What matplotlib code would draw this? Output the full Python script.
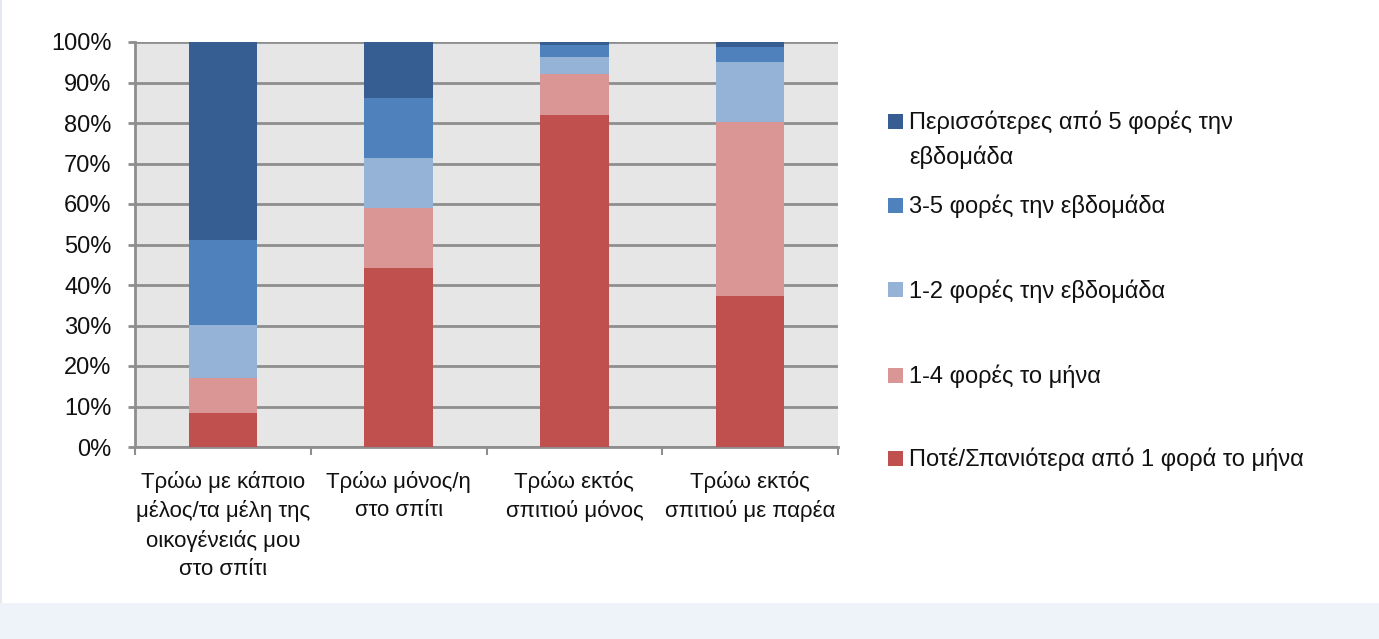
import matplotlib
matplotlib.use("Agg")
import matplotlib.pyplot as plt
from matplotlib.patches import Rectangle
from matplotlib.ticker import FixedLocator, FuncFormatter

plt.rcParams['font.family'] = ['Liberation Sans', 'DejaVu Sans']

categories = [
    "Τρώω με κάποιο\nμέλος/τα μέλη της\nοικογένειάς μου\nστο σπίτι",
    "Τρώω μόνος/η\nστο σπίτι",
    "Τρώω εκτός\nσπιτιού μόνος",
    "Τρώω εκτός\nσπιτιού με παρέα",
]
# stacked from bottom to top
series_labels = [
    "Ποτέ/Σπανιότερα από 1 φορά το μήνα",
    "1-4 φορές το μήνα",
    "1-2 φορές την εβδομάδα",
    "3-5 φορές την εβδομάδα",
    "Περισσότερες από 5 φορές την\nεβδομάδα",
]
never = [8.3, 44.1, 82.0, 37.4]
month_1_4 = [8.7, 14.8, 10.0, 42.9]
week_1_2 = [13.1, 12.4, 4.2, 14.7]
week_3_5 = [21.0, 14.8, 3.0, 3.8]
week_5plus = [48.9, 13.9, 0.8, 1.2]
series_values = [never, month_1_4, week_1_2, week_3_5, week_5plus]
series_colors = ["#C0504D", "#D99694", "#95B3D7", "#4F81BD", "#375E92"]
yticks = [0, 10, 20, 30, 40, 50, 60, 70, 80, 90, 100]

W, H = 1379, 639
fig = plt.figure(figsize=(W / 100, H / 100), dpi=100)
fig.patch.set_facecolor("white")

# bottom band and faint left border
fig.patches.append(Rectangle((0, 0), 1, 36 / H, transform=fig.transFigure,
                             facecolor="#EEF2F9", edgecolor="none", zorder=0))
fig.patches.append(Rectangle((0, 36 / H), 2 / W, 1 - 36 / H, transform=fig.transFigure,
                             facecolor="#E4E9F1", edgecolor="none", zorder=0))

ax = fig.add_axes([135 / W, 1 - 447 / H, (838 - 135) / W, (447 - 42) / H])
ax.set_facecolor("#E6E6E6")

x = list(range(len(categories)))
bottom = [0.0] * len(categories)
for vals, col, lab in zip(series_values, series_colors, series_labels):
    ax.bar(x, vals, width=0.39, bottom=bottom, color=col, edgecolor="none",
           label=lab, zorder=3)
    bottom = [b + v for b, v in zip(bottom, vals)]

ax.set_xlim(-0.5, len(categories) - 0.5)
ax.set_ylim(0, 100)
ax.set_axisbelow(True)
ax.yaxis.set_major_locator(FixedLocator(yticks))
ax.yaxis.set_major_formatter(FuncFormatter(lambda v, p: f"{int(v)}%"))
ax.grid(axis="y", color="#8E8E8E", linewidth=2.0, zorder=0)
ax.grid(axis="x", visible=False)

ax.set_xticks(x)
ax.set_xticklabels(categories, fontsize=16, color="#111111", linespacing=1.45)
ax.set_xticks([i - 0.5 for i in range(len(categories) + 1)], minor=True)
ax.tick_params(axis="x", which="major", length=0, pad=17)
ax.tick_params(axis="x", which="minor", length=6, width=1.5, color="#8E8E8E")
ax.tick_params(axis="y", length=5, width=2, color="#8E8E8E", pad=12,
               labelsize=17, labelcolor="#111111")

for s in ["top", "right"]:
    ax.spines[s].set_visible(False)
for s in ["left", "bottom"]:
    ax.spines[s].set_color("#8E8E8E")
    ax.spines[s].set_linewidth(2)

# legend (top entry first), drawn in figure pixel coordinates
leg_y = [121, 205, 290, 375, 458]
order = list(range(len(series_labels)))[::-1]
fs = 17
for yc, idx in zip(leg_y, order):
    fig.patches.append(Rectangle((888 / W, 1 - (yc + 7.5) / H), 15 / W, 15 / H,
                                 transform=fig.transFigure,
                                 facecolor=series_colors[idx], edgecolor="none"))
    for j, line in enumerate(series_labels[idx].split("\n")):
        base = yc + 8.3 + j * 35
        fig.text(909 / W, 1 - base / H, line, fontsize=fs, color="#111111",
                 ha="left", va="baseline")

fig.savefig("out.png", dpi=100, facecolor=fig.get_facecolor())
